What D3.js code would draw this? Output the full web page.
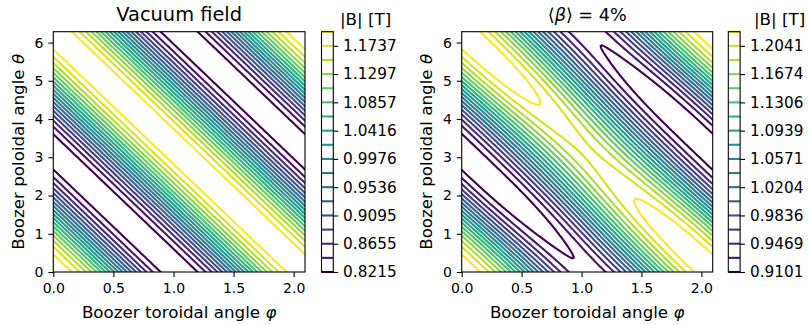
<!DOCTYPE html>
<html>
<head>
<meta charset="utf-8">
<script src="https://cdn.jsdelivr.net/npm/d3@7"></script>
<style>
  body { margin: 0; background: #fff; }
  text { font-family: "DejaVu Sans", sans-serif; fill: #000; }
</style>
</head>
<body>
<svg id="fig" width="808" height="325"></svg>
<script>
// contour levels (every other one is labelled)
const vacLevels = [0.8215, 0.8435, 0.8655, 0.8875, 0.9095, 0.9316, 0.9536, 0.9756, 0.9976,
                   1.0196, 1.0416, 1.0637, 1.0857, 1.1077, 1.1297, 1.1517, 1.1737, 1.1957];
const betaLevels = [0.9101, 0.9285, 0.9469, 0.9652, 0.9836, 1.0020, 1.0204, 1.0387, 1.0571,
                    1.0755, 1.0939, 1.1122, 1.1306, 1.1490, 1.1674, 1.1857, 1.2041, 1.2225];
const vacTicks = [0.8215, 0.8655, 0.9095, 0.9536, 0.9976, 1.0416, 1.0857, 1.1297, 1.1737];
const betaTicks = [0.9101, 0.9469, 0.9836, 1.0204, 1.0571, 1.0939, 1.1306, 1.1674, 1.2041];

// Boozer spectrum, |B| = sum b * cos(m*theta + n*phi), estimated from the contour shapes
const vacM = [0, 1];
const vacN = [0, 3];
const vacB = [1.0086, 0.209];
const betaM = [0, 1, 1, 2, 0, 3, 1];
const betaN = [0, 3, 0, 3, 3, 3, -3];
const betaB = [1.0628, 0.1633, 0.0129, 0.0018, 0.0018, -0.00125, -0.00125];

const phiTicks = [0, 0.5, 1, 1.5, 2];
const thetaTicks = [0, 1, 2, 3, 4, 5, 6];

const svg = d3.select("#fig");
const plotTop = 31.7, plotBottom = 272;
const phiMax = 2 * Math.PI / 3;

// sampling grid, padded past the plot edges so the contour outline stays outside the clip
const nx = 380, ny = 380;
const p0 = -0.25, p1 = phiMax + 0.25, t0 = -0.5, t1 = 2 * Math.PI + 0.5;
const dp = (p1 - p0) / (nx - 1), dt = (t1 - t0) / (ny - 1);

const panels = [
  { id: "vac", left: 53.3, right: 305, cb: 321.5, cbLabelX: 340,
    levels: vacLevels, ticks: vacTicks, M: vacM, N: vacN, B: vacB },
  { id: "beta", left: 461.7, right: 712.7, cb: 728.3, cbLabelX: 754,
    levels: betaLevels, ticks: betaTicks, M: betaM, N: betaN, B: betaB }
];

panels.forEach(p => {
  const x = d3.scaleLinear().domain([0, phiMax]).range([p.left, p.right]);
  const y = d3.scaleLinear().domain([0, 2 * Math.PI]).range([plotBottom, plotTop]);

  const field = (phi, th) => {
    let s = 0;
    for (let k = 0; k < p.B.length; k++) s += p.B[k] * Math.cos(p.M[k] * th + p.N[k] * phi);
    return s;
  };
  const values = new Float64Array(nx * ny);
  for (let j = 0; j < ny; j++)
    for (let i = 0; i < nx; i++)
      values[j * nx + i] = field(p0 + i * dp, t0 + j * dt);

  const proj = d3.geoTransform({
    point(cx, cy) { this.stream.point(x(p0 + (cx - 0.5) * dp), y(t0 + (cy - 0.5) * dt)); }
  });
  const path = d3.geoPath(proj);
  const contours = d3.contours().size([nx, ny]);
  const color = k => d3.interpolateViridis(k / (p.levels.length - 1));

  svg.append("clipPath").attr("id", "clip-" + p.id)
    .append("rect")
      .attr("x", p.left).attr("y", plotTop)
      .attr("width", p.right - p.left).attr("height", plotBottom - plotTop);

  const g = svg.append("g").attr("clip-path", `url(#clip-${p.id})`);
  p.levels.forEach((lv, k) => {
    g.append("path")
      .attr("d", path(contours.contour(values, lv)))
      .attr("fill", "none")
      .attr("stroke", color(k))
      .attr("stroke-width", 2.1)
      .attr("stroke-linejoin", "round");
  });

  // axes
  const ax = svg.append("g")
    .attr("transform", `translate(0,${plotBottom})`)
    .call(d3.axisBottom(x).tickValues(phiTicks).tickFormat(d3.format(".1f"))
      .tickSize(4.9).tickPadding(6).tickSizeOuter(0));
  const ay = svg.append("g")
    .attr("transform", `translate(${p.left},0)`)
    .call(d3.axisLeft(y).tickValues(thetaTicks).tickFormat(d3.format("d"))
      .tickSize(4.9).tickPadding(4.9).tickSizeOuter(0));
  [ax, ay].forEach(a => {
    a.select(".domain").remove();
    a.selectAll("line").attr("stroke", "#000").attr("stroke-width", 1.1);
    a.selectAll("text").attr("font-size", 14).attr("font-family", "DejaVu Sans").attr("fill", "#000");
  });
  svg.append("rect")
    .attr("x", p.left).attr("y", plotTop)
    .attr("width", p.right - p.left).attr("height", plotBottom - plotTop)
    .attr("fill", "none").attr("stroke", "#000").attr("stroke-width", 1.1);

  const xl = svg.append("text")
    .attr("x", (p.left + p.right) / 2).attr("y", 318)
    .attr("text-anchor", "middle").attr("font-size", 16.7);
  xl.append("tspan").text("Boozer toroidal angle ");
  xl.append("tspan").attr("font-style", "italic").text("φ");

  const yl = svg.append("text")
    .attr("transform", `translate(${p.left - 29.5},${(plotTop + plotBottom) / 2}) rotate(-90)`)
    .attr("text-anchor", "middle").attr("font-size", 16.7);
  yl.append("tspan").text("Boozer poloidal angle ");
  yl.append("tspan").attr("font-style", "italic").text("θ");

  // title
  const tt = svg.append("text")
    .attr("x", (p.left + p.right) / 2).attr("y", 21)
    .attr("text-anchor", "middle");
  if (p.id === "vac") {
    tt.attr("font-size", 19.4).text("Vacuum field");
  } else {
    tt.attr("font-size", 17.6);
    tt.append("tspan").text("⟨");
    tt.append("tspan").attr("font-style", "italic").text("β");
    tt.append("tspan").text("⟩ = 4%");
  }

  // colour bar with one line per level
  const cw = 11.8;
  const cy = d3.scaleLinear().domain([p.levels[0], p.levels[p.levels.length - 1]]).range([plotBottom, plotTop]);
  svg.append("g").selectAll("line")
    .data(p.levels)
    .join("line")
      .attr("x1", p.cb).attr("x2", p.cb + cw)
      .attr("y1", d => cy(d)).attr("y2", d => cy(d))
      .attr("stroke", (d, k) => color(k))
      .attr("stroke-width", 2.1);
  svg.append("rect")
    .attr("x", p.cb).attr("y", plotTop).attr("width", cw).attr("height", plotBottom - plotTop)
    .attr("fill", "none").attr("stroke", "#000").attr("stroke-width", 1.1);
  const cax = svg.append("g")
    .attr("transform", `translate(${p.cb + cw},0)`)
    .call(d3.axisRight(cy).tickValues(p.ticks).tickFormat(d3.format(".4f"))
      .tickSize(4.9).tickPadding(4.9).tickSizeOuter(0));
  cax.select(".domain").remove();
  cax.selectAll("line").attr("stroke", "#000").attr("stroke-width", 1.1);
  cax.selectAll("text").attr("font-size", 15.3).attr("font-family", "DejaVu Sans").attr("fill", "#000");

  svg.append("text")
    .attr("x", p.cbLabelX).attr("y", 25)
    .attr("font-size", 16.7)
    .text("|B| [T]");
});
</script>
</body>
</html>
